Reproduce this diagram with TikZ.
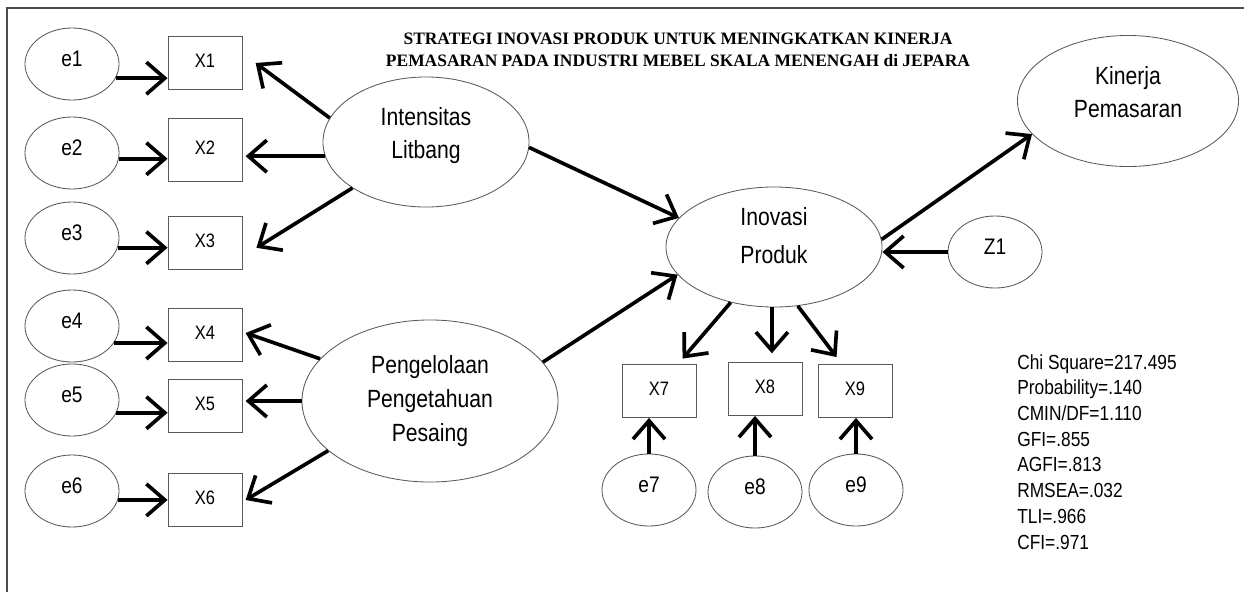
\documentclass[tikz,border=0pt]{standalone}
\usepackage{fontspec}
\setmainfont[FakeStretch=0.85]{Liberation Sans}
\newfontfamily\titlefont{Liberation Serif}
\usepackage{xcolor}
\colorlet{colorShape}{black!65}
\colorlet{colorArrow}{black}
\colorlet{colorFrame}{black!70}
\usetikzlibrary{arrows.meta, shapes.geometric, positioning}

\begin{document}
\begin{tikzpicture}[x=0.025cm, y=-0.025cm, >={Straight Barb[length=4.6mm, width=8mm]},
  every node/.style={inner sep=0pt},
  latent/.style={ellipse, draw=colorShape, line width=0.6pt, align=center, text depth=0.45cm, font=\fontsize{17.7}{24}\selectfont},
  errvar/.style={ellipse, draw=colorShape, line width=0.6pt, minimum width=2.35cm, minimum height=1.8cm, text depth=0.25cm, font=\fontsize{16}{19}\selectfont},
  indicator/.style={rectangle, draw=colorShape, line width=0.6pt, minimum width=1.85cm, minimum height=1.325cm, text depth=0.1cm, font=\fontsize{13.8}{16}\selectfont},
  arrowline/.style={colorArrow, line width=2.6pt}]
\useasboundingbox (0,0) rectangle (1244,592);
\draw[colorFrame, line width=0.8pt] (7,592) -- (7,8) -- (1244,8);

\node[font=\titlefont\bfseries\fontsize{12.4}{15.6}\selectfont, align=center] (title) at (678,50) {STRATEGI INOVASI PRODUK UNTUK MENINGKATKAN KINERJA\\PEMASARAN PADA INDUSTRI MEBEL SKALA MENENGAH di JEPARA};

\foreach \i/\y in {1/64,2/153,3/238,4/326,5/400,6/491}
  \node[errvar] (e\i) at (72,\y) {e\i};
\foreach \i/\y in {1/63,3/243,4/335,5/406,6/500}
  \node[indicator] (X\i) at (205,\y) {X\i};
\node[indicator, minimum height=1.575cm] (X2) at (205,150) {X2};

\node[latent, minimum width=5.15cm, minimum height=3.25cm] (IL) at (426,142) {Intensitas\\Litbang};
\node[latent, minimum width=6.4cm, minimum height=4.05cm, text depth=0.12cm] (PK) at (430,401) {Pengelolaan\\Pengetahuan\\Pesaing};
\node[latent, minimum width=5.4cm, minimum height=3cm, text depth=0.6cm, font=\fontsize{17.7}{27}\selectfont] (IP) at (774,247) {Inovasi\\Produk};
\node[latent, minimum width=5.525cm, minimum height=3.275cm] (KP) at (1128,101) {Kinerja\\Pemasaran};
\node[errvar] (Z1) at (995,252) {Z1};

\node[indicator] (X7) at (659,391) {X7};
\node[indicator] (X8) at (765,389) {X8};
\node[indicator] (X9) at (855,391) {X9};
\node[errvar] (e7) at (649,490) {e7};
\node[errvar] (e8) at (755,492) {e8};
\node[errvar] (e9) at (856,490) {e9};

\node[anchor=north west, align=left, font=\fontsize{14.5}{18.3}\selectfont] (fit) at (1017,354) {Chi Square=217.495\\Probability=.140\\CMIN/DF=1.110\\GFI=.855\\AGFI=.813\\RMSEA=.032\\TLI=.966\\CFI=.971};

\foreach \i/\a in {1/-18,2/-7,3/-12,4/-22,5/-16,6/-11}
  \draw [arrowline] (e\i.\a) edge [->] (e\i.\a -| X\i.west);
\draw [arrowline] (IL.166) edge [->] ([xshift=0.33cm]X1.east);
\draw [arrowline] (IL.188) edge [->] ([xshift=0.08cm]IL.188 -| X2.east);
\draw [arrowline] (IL.212) edge [->] ([xshift=0.35cm, yshift=-0.12cm]X3.east);
\draw [arrowline] (PK.159) edge [->] ([xshift=0.08cm, yshift=0.05cm]X4.east);
\draw [arrowline] (PK.west) edge [->] ([xshift=0.08cm]PK.west -| X5.east);
\draw [arrowline] (PK.206) edge [->] ([xshift=0.08cm]X6.east);
\draw [arrowline] (IL.-3) edge [->] (IP.163);
\draw [arrowline] (PK.19) edge [->] (IP.196);
\draw [arrowline] (IP.4) edge [->] (KP.199);
\draw [arrowline] (Z1.west) edge [->] (Z1.west -| IP.east);
\draw [arrowline] (IP.232) edge [->, shorten >=0.18cm] (X7.55);
\draw [arrowline] (IP.268) edge [->] ([yshift=0.22cm]IP.268 |- X8.north);
\draw [arrowline] (IP.292) edge [->, shorten >=0.22cm] (X9.116);
\foreach \i in {7,8,9}
  \draw [arrowline] (e\i.north) edge [->] (e\i.north |- X\i.south);
\end{tikzpicture}
\end{document}
